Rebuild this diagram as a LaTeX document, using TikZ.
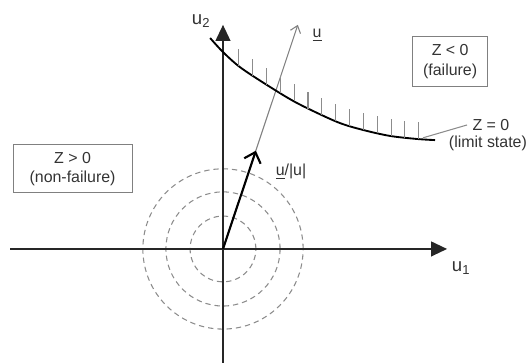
\documentclass[tikz,border=0pt]{standalone}
\usepackage{fontspec}
\setmainfont{Liberation Sans}
\usetikzlibrary{arrows.meta,intersections}

\begin{document}
\begin{tikzpicture}[
  font=\fontsize{12}{14.5}\selectfont,
  every node/.style={text=black!80},
  axis/.style={line width=1.5pt,draw=black!85,-{Triangle[length=12pt,width=11pt]}},
  ring/.style={draw=black!45,line width=0.8pt,dash pattern=on 4pt off 3pt},
  hatch/.style={draw=black!45,line width=0.8pt},
  axlabel/.style={font=\fontsize{14}{16}\selectfont},
  region/.style={draw=black!50,line width=0.8pt,align=center,inner sep=0pt}]
  \useasboundingbox (-5.90,-3.016) rectangle (8.07,6.587);
  \coordinate (O) at (0,0);
  \coordinate (xa) at (-5.63,0);
  \coordinate (xb) at (5.93,0);
  \coordinate (ya) at (0,-3.02);
  \coordinate (yb) at (0,5.93);
  \coordinate (unit) at (0.87,2.60);
  \coordinate (utip) at (1.98,5.93);
  \coordinate (lim) at (5.29,2.94);
  \foreach \r in {0.87,1.51,2.12}
    \draw[ring] (O) circle (\r);
  \draw[axis] (xa) -- (xb);
  \draw[axis] (ya) -- (yb);
  \node[axlabel] (u1) at (6.30,-0.50) {u\textsubscript{1}};
  \node[axlabel] (u2) at (-0.58,6.03) {u\textsubscript{2}};
  \draw[black!50,line width=0.8pt,-{Straight Barb[length=5pt,width=8pt]}] (O) -- (utip);
  \node (uvec) at (2.49,5.66) {\underline{u}};
  \draw[black,line width=1.6pt,-{Straight Barb[length=7pt,width=13pt]}] (O) -- (unit);
  \node (unorm) at (1.80,2.04) {\underline{u}/|u|};
  \draw[black,line width=1.4pt,name path=lsf] plot[smooth] coordinates
    {(-0.34,5.58) (0,5.21) (0.45,4.81) (1.16,4.34) (1.96,3.86) (3.02,3.36)
     (3.70,3.15) (4.42,2.99) (5.13,2.91) (5.61,2.88)};
  \foreach \hx in {0.42,0.786,...,5.2} {
    \path[name path=hline] (\hx,0) -- (\hx,7);
    \draw[hatch,name intersections={of=lsf and hline,by=hp}] (hp) -- ++(0,0.45);
  }
  \node[region,minimum width=1.98cm,minimum height=1.30cm] (fail) at (6.01,4.96) {Z < 0\\(failure)};
  \node[region,minimum width=3.15cm,minimum height=1.27cm] (safe) at (-3.98,2.12) {Z > 0\\(non-failure)};
  \node[inner xsep=4pt] (zlab) at (7.09,3.28) {Z = 0};
  \node (zsub) at (7.01,2.80) {(limit state)};
  \draw[hatch] (lim) -- (zlab.west);
\end{tikzpicture}
\end{document}
